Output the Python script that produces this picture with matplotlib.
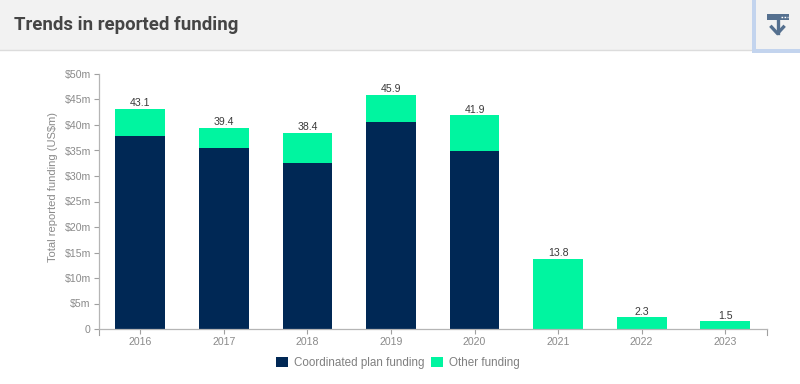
import matplotlib
matplotlib.use("Agg")
import matplotlib.pyplot as plt
from matplotlib.patches import Rectangle

plt.rcParams['font.family'] = ['Liberation Sans', 'DejaVu Sans']

years = ["2016", "2017", "2018", "2019", "2020", "2021", "2022", "2023"]
coordinated = [37.9, 35.4, 32.5, 40.6, 35.0, 0, 0, 0]
other = [5.2, 4.0, 5.9, 5.3, 6.9, 13.8, 2.3, 1.5]
totals = [43.1, 39.4, 38.4, 45.9, 41.9, 13.8, 2.3, 1.5]
yticks = list(range(0, 55, 5))
ylabels = ["0"] + [f"${v}m" for v in yticks[1:]]

navy = "#002855"
green = "#00f5a0"
W, H = 800, 384

fig = plt.figure(figsize=(W / 100, H / 100), dpi=100, facecolor="white")

# header band
bg = fig.add_axes([0, 0, 1, 1], zorder=0)
bg.set_xlim(0, W)
bg.set_ylim(H, 0)
bg.axis("off")
bg.add_patch(Rectangle((0, 0), W, 49.5, color="#f2f2f2", lw=0))
bg.plot([0, W], [49.5, 49.5], color="#dcdcdc", lw=1, zorder=1)
bg.add_patch(Rectangle((752, 0), 3.5, 52.5, color="#c3d4ee", lw=0, zorder=2))
bg.add_patch(Rectangle((752, 49), 48, 3.5, color="#c3d4ee", lw=0, zorder=2))
bg.text(14, 25, "Trends in reported funding", fontsize=13.4, fontweight="bold",
        color="#454545", va="center", family=["Roboto", "DejaVu Sans"])

# download icon
icon = "#55708f"
bg.add_patch(Rectangle((767, 13.5), 22, 6.5, color=icon, lw=0, zorder=3))
bg.plot([777.5, 777.5], [20, 33], color=icon, lw=2.4, zorder=3)
bg.plot([771.5, 777.5, 783.5], [27, 33.5, 27], color=icon, lw=2.4, zorder=3)
bg.plot([781, 787.5], [16.5, 16.5], color="white", lw=1, ls=(0, (1.2, 1)), zorder=4)

# plot area
x0, x1, y_top, y_bot = 98.5, 767, 74, 329
ax = fig.add_axes([x0 / W, 1 - y_bot / H, (x1 - x0) / W, (y_bot - y_top) / H], zorder=1)
ax.patch.set_alpha(0)
pos = range(len(years))
ax.bar(pos, coordinated, width=0.595, color=navy, label="Coordinated plan funding")
ax.bar(pos, other, width=0.595, bottom=coordinated, color=green, label="Other funding")
for i, t in zip(pos, totals):
    ax.annotate(str(t), (i, t), xytext=(0, 0.5), textcoords="offset points",
                ha="center", va="bottom", fontsize=7.6, color="#3a3a3a")

ax.set_xlim(-0.5, 7.5)
ax.set_ylim(0, 50)
ax.set_xticks(list(pos))
ax.set_xticklabels(years)
ax.set_yticks(yticks)
ax.set_yticklabels(ylabels)
ax.tick_params(axis="both", labelsize=7.6, color="#a0a0a0", length=3.6, width=0.8, pad=2,
               labelcolor="#8a8a8a")
ax.set_ylabel("Total reported funding (US$m)", fontsize=8, color="#8a8a8a", labelpad=4.6, y=0.555)
for s in ["top", "right"]:
    ax.spines[s].set_visible(False)
for s in ["left", "bottom"]:
    ax.spines[s].set_color("#b5b5b5")
    ax.spines[s].set_linewidth(0.9)

# outer end ticks on the x axis
ax.plot([-0.5, -0.5], [0, -1.1], color="#a0a0a0", lw=0.8, clip_on=False)
ax.plot([7.5, 7.5], [0, -1.1], color="#a0a0a0", lw=0.8, clip_on=False)

# legend
h, l = ax.get_legend_handles_labels()
fig.legend(h, l, loc="center", bbox_to_anchor=(398 / W, 1 - 363 / H), ncol=2, frameon=False,
           fontsize=8.4, labelcolor="#808080", handlelength=1, handleheight=1,
           handletextpad=0.5, columnspacing=0.6)

fig.savefig("out.png", dpi=100)
